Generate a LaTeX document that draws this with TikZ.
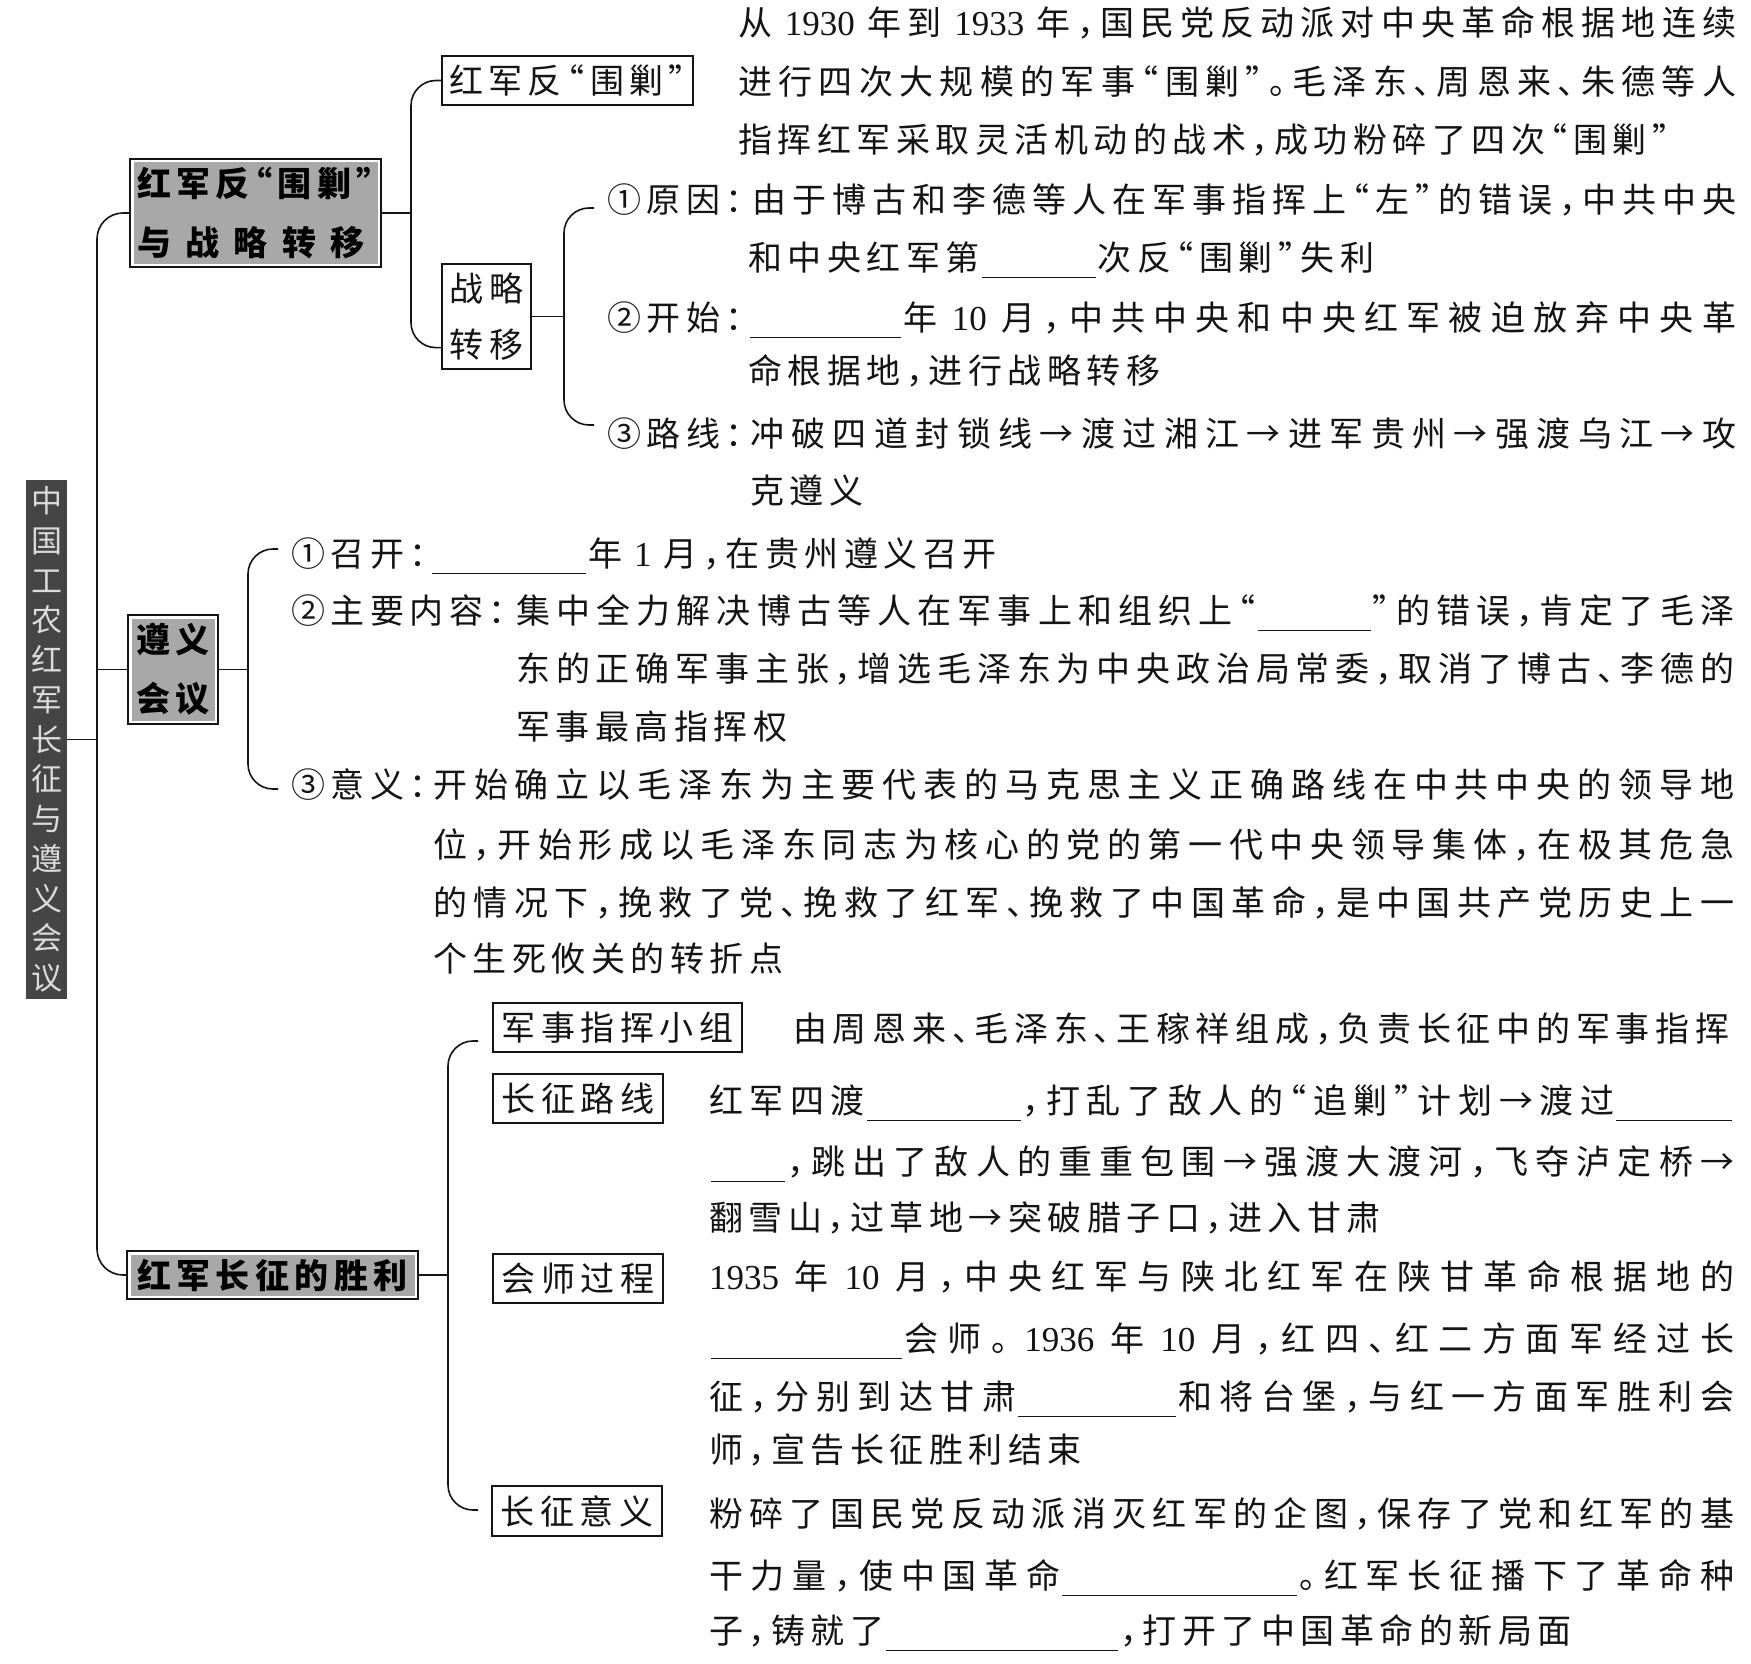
\documentclass[tikz,border=0pt]{standalone}
\usepackage{fontspec}
\newfontfamily\cjk{Noto Sans CJK SC}[RawFeature=+halt]
\newfontfamily\dig{Liberation Serif}
\XeTeXinterchartokenstate=1
\newcount\cjkcnt
\cjkcnt="4E00
\loop\ifnum\cjkcnt<"A000 \XeTeXcharclass\cjkcnt=7 \advance\cjkcnt by 1 \repeat
\XeTeXcharclass"FF0C=7 \XeTeXcharclass"FF1A=7 \XeTeXcharclass"3001=7
\XeTeXcharclass"3002=7 \XeTeXcharclass"201C=7 \XeTeXcharclass"201D=7
\XeTeXcharclass"2192=7 \XeTeXcharclass"2460=7 \XeTeXcharclass"2461=7
\XeTeXcharclass"2462=7
\newdimen\cjkgap \cjkgap=5.5pt
\XeTeXinterchartoks 7 7 = {\hskip\cjkgap plus 1fil\relax}
\newcommand\blank[1]{\hskip2pt\rule[-8pt]{#1pt}{1.3pt}\hskip2pt}
\newcommand\dsp{\hskip 12pt plus 1fil\relax}
\newcommand\dnum[1]{\dsp{\dig\fontsize{35}{40}\selectfont #1}\dsp}
\definecolor{boxgray}{gray}{0.66}
\definecolor{ttlgray}{gray}{0.27}
\definecolor{ink}{gray}{0.08}
\begin{document}
\begin{tikzpicture}[x=1pt,y=-1pt,
  conn/.style={line width=1.6pt, draw=ink, rounded corners=26pt},
  txt/.style={anchor=base west, inner sep=0pt, text=ink, font=\cjk\fontsize{34}{40}\selectfont},
  wbox/.style={draw=ink, line width=1.3pt, inner sep=0pt, text=ink, align=center, font=\cjk\fontsize{34}{56}\selectfont},
  gbox/.style={draw=ink, line width=1.3pt, inner sep=0pt, text=black, align=left, font=\cjk\bfseries\fontsize{34}{59}\selectfont,
    path picture={\fill[boxgray] ([shift={(3.5pt,3.5pt)}]path picture bounding box.south west) rectangle ([shift={(-3.5pt,-3.5pt)}]path picture bounding box.north east);}},
  ttlbox/.style={fill=ttlgray, inner sep=0pt, text=white!86!black, align=center, font=\cjk\fontsize{31}{39.75}\selectfont}
]
\useasboundingbox (0,0) rectangle (1751,1664);
\fill[white] (0,0) rectangle (1751,1664);

% ---- boxes ----
\node[ttlbox, minimum width=41pt, minimum height=519pt] (ttl) at (46.5,739.5)
  {中\\国\\工\\农\\红\\军\\长\\征\\与\\遵\\义\\会\\议};
\node[gbox, minimum width=251pt, minimum height=108pt] (gb1) at (255.5,213) {红军反“围剿”\\与战略转移};
\node[gbox, minimum width=90pt, minimum height=109pt, align=center] (gb2) at (173,669.5) {遵义\\会议};
\node[gbox, minimum width=291pt, minimum height=48pt] (gb3) at (272.5,1275) {红军长征的胜利};
\node[wbox, minimum width=251pt, minimum height=49pt] (bx1) at (567.5,80.5) {红军反“围剿”};
\node[wbox, minimum width=89pt, minimum height=105pt] (bx2) at (486.5,316.5) {战略\\转移};
\node[wbox, minimum width=249pt, minimum height=49pt] (bx3) at (617.5,1027.5) {军事指挥小组};
\node[wbox, minimum width=170pt, minimum height=49pt] (bx4) at (578,1098.5) {长征路线};
\node[wbox, minimum width=170pt, minimum height=49pt] (bx5) at (578,1278.5) {会师过程};
\node[wbox, minimum width=170pt, minimum height=50pt] (bx6) at (577,1511) {长征意义};

% ---- coordinates for connectors ----
\coordinate (trunk) at (97,700);
\coordinate (br1) at (411,200);
\coordinate (br2) at (564,316);
\coordinate (br3) at (248,670);
\coordinate (br4) at (448,1275);
\coordinate (bx2in) at ([yshift=22pt]bx2.south west);
\coordinate (c1) at (594,208);
\coordinate (c3) at (594,425);
\coordinate (z1) at (278,549);
\coordinate (z3) at (278,789);
\coordinate (m1) at (478,1041);
\coordinate (m4) at (478,1510);

% ---- connectors ----
\draw[conn] (gb1.west) -| (trunk) |- (gb3.west);
\draw[conn] (ttl.east) -- (ttl.east -| trunk);
\draw[conn] (trunk |- gb2.west) -- (gb2.west);
\draw[conn] (gb1.east) -- (gb1.east -| br1);
\draw[conn, rounded corners=25pt] (bx1.west) -| (br1) |- (bx2in);
\draw[conn] (bx2.east) -- (bx2.east -| br2);
\draw[conn, rounded corners=25pt] (c1) -| (br2) |- (c3);
\draw[conn] (gb2.east) -- (gb2.east -| br3);
\draw[conn, rounded corners=25pt] (z1) -| (br3) |- (z3);
\draw[conn] (gb3.east) -- (gb3.east -| br4);
\draw[conn, rounded corners=25pt] (m1) -| (br4) |- (m4);

% ---- block: 红军反围剿 ----
\node[txt] (tA1) at (738,36) {\hbox to 998pt{从\dnum{1930}年到\dnum{1933}年，国民党反动派对中央革命根据地连续}};
\node[txt] (tA2) at (738,95) {\hbox to 998pt{进行四次大规模的军事“围剿”。毛泽东、周恩来、朱德等人}};
\node[txt] (tA3) at (738,153) {指挥红军采取灵活机动的战术，成功粉碎了四次“围剿”};

% ---- block: 战略转移 ----
\node[txt] (lB) at (607,213) {①原因：};
\node[txt] (tB1) at (752,213) {\hbox to 984pt{由于博古和李德等人在军事指挥上“左”的错误，中共中央}};
\node[txt] (tB2) at (748,270) {和中央红军第\blank{114}次反“围剿”失利};
\node[txt] (lC) at (607,330) {②开始：};
\node[txt] (tC1) at (748,330) {\hbox to 988pt{\blank{151}年\dnum{10}月，中共中央和中央红军被迫放弃中央革}};
\node[txt] (tC2) at (748,383) {命根据地，进行战略转移};
\node[txt] (lD) at (607,446) {③路线：};
\node[txt] (tD1) at (750,446) {\hbox to 986pt{冲破四道封锁线→渡过湘江→进军贵州→强渡乌江→攻}};
\node[txt] (tD2) at (750,503) {克遵义};

% ---- block: 遵义会议 ----
\node[txt] (lE) at (291,566) {①召开：};
\node[txt] (tE) at (430,566) {\blank{154}年\dnum{1}月，在贵州遵义召开};
\node[txt] (lF) at (291,623) {②主要内容：};
\node[txt] (tF1) at (516,623) {\hbox to 1218pt{集中全力解决博古等人在军事上和组织上“\blank{113}”的错误，肯定了毛泽}};
\node[txt] (tF2) at (516,681) {\hbox to 1218pt{东的正确军事主张，增选毛泽东为中央政治局常委，取消了博古、李德的}};
\node[txt] (tF3) at (516,739) {军事最高指挥权};
\node[txt] (lG) at (291,797) {③意义：};
\node[txt] (tG1) at (433,797) {\hbox to 1301pt{开始确立以毛泽东为主要代表的马克思主义正确路线在中共中央的领导地}};
\node[txt] (tG2) at (433,857) {\hbox to 1301pt{位，开始形成以毛泽东同志为核心的党的第一代中央领导集体，在极其危急}};
\node[txt] (tG3) at (433,915) {\hbox to 1301pt{的情况下，挽救了党、挽救了红军、挽救了中国革命，是中国共产党历史上一}};
\node[txt] (tG4) at (433,971) {个生死攸关的转折点};

% ---- block: 红军长征的胜利 ----
\node[txt] (tH) at (793,1041) {\hbox to 936pt{由周恩来、毛泽东、王稼祥组成，负责长征中的军事指挥}};
\node[txt] (tI1) at (709,1113) {\hbox to 1025pt{红军四渡\blank{154}，打乱了敌人的“追剿”计划→渡过\blank{116}}};
\node[txt] (tI2) at (709,1174) {\hbox to 1025pt{\blank{74}，跳出了敌人的重重包围→强渡大渡河，飞夺泸定桥→}};
\node[txt] (tI3) at (709,1230) {翻雪山，过草地→突破腊子口，进入甘肃};
\node[txt] (tJ1) at (709,1289) {\hbox to 1025pt{{\dig\fontsize{35}{40}\selectfont 1935}\dsp 年\dnum{10}月，中央红军与陕北红军在陕甘革命根据地的}};
\node[txt] (tJ2) at (709,1351) {\hbox to 1025pt{\blank{191}会师。\dsp{\dig\fontsize{35}{40}\selectfont 1936}\dsp 年\dnum{10}月，红四、红二方面军经过长}};
\node[txt] (tJ3) at (709,1409) {\hbox to 1025pt{征，分别到达甘肃\blank{158}和将台堡，与红一方面军胜利会}};
\node[txt] (tJ4) at (709,1462) {师，宣告长征胜利结束};
\node[txt] (tK1) at (709,1526) {\hbox to 1025pt{粉碎了国民党反动派消灭红军的企图，保存了党和红军的基}};
\node[txt] (tK2) at (709,1588) {\hbox to 1025pt{干力量，使中国革命\blank{235}。红军长征播下了革命种}};
\node[txt] (tK3) at (709,1643) {子，铸就了\blank{232}，打开了中国革命的新局面};
\end{tikzpicture}
\end{document}
